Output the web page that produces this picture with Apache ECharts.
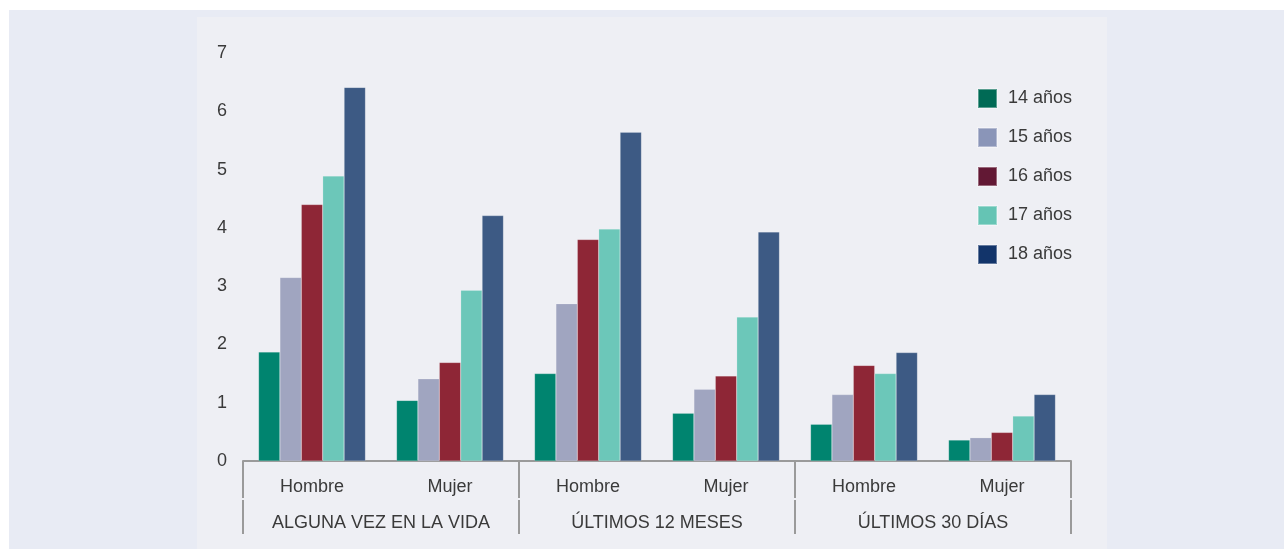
<!DOCTYPE html>
<html>
<head>
<meta charset="utf-8">
<script src="https://cdn.jsdelivr.net/npm/echarts@6/dist/echarts.min.js"></script>
<style>
html,body{margin:0;padding:0;background:#ffffff;}
#chart{width:1284px;height:549px;}
</style>
</head>
<body>
<div id="chart"></div>
<script>
const subCategories = ['Hombre', 'Mujer', 'Hombre', 'Mujer', 'Hombre', 'Mujer'];
const groupCategories = ['ALGUNA VEZ EN LA VIDA', 'ÚLTIMOS 12 MESES', 'ÚLTIMOS 30 DÍAS'];
const seriesNames = ['14 años', '15 años', '16 años', '17 años', '18 años'];
const age14 = [1.87, 1.04, 1.50, 0.82, 0.63, 0.36];
const age15 = [3.15, 1.41, 2.70, 1.23, 1.14, 0.40];
const age16 = [4.40, 1.69, 3.80, 1.46, 1.64, 0.49];
const age17 = [4.89, 2.93, 3.98, 2.47, 1.50, 0.77];
const age18 = [6.41, 4.21, 5.64, 3.93, 1.86, 1.14];
const yTicks = [0, 7, 1];

const barColors = ['#00846f', '#a0a5c0', '#8e2636', '#6cc7b9', '#3d5a84'];
const legendColors = ['#006a55', '#8a95b8', '#621834', '#65c4b4', '#12346a'];
const values = [age14, age15, age16, age17, age18];

const chart = echarts.init(document.getElementById('chart'), null, {renderer: 'canvas'});
const font = 'Liberation Sans, Arial, sans-serif';
const txt = '#3a3a3a';

chart.setOption({
  animation: false,
  backgroundColor: '#ffffff',
  graphic: [
    {type: 'rect', z: -10, silent: true, shape: {x: 9, y: 10, width: 1275, height: 539}, style: {fill: '#e8ebf4'}},
    {type: 'rect', z: -9, silent: true, shape: {x: 197, y: 17, width: 910, height: 532}, style: {fill: '#eeeff4'}}
  ],
  grid: {left: 243, right: 213, top: 53, bottom: 88, containLabel: false},
  legend: {
    orient: 'vertical',
    left: 977,
    top: 88,
    padding: 0,
    itemWidth: 19,
    itemHeight: 19,
    itemGap: 18,
    icon: 'rect',
    textStyle: {fontFamily: font, fontSize: 18, lineHeight: 19, color: txt, padding: [0, 0, 0, 6]},
    data: seriesNames.map((n, i) => ({name: n, itemStyle: {color: legendColors[i]}}))
  },
  xAxis: [
    {
      type: 'category',
      data: subCategories,
      position: 'bottom',
      axisLine: {show: true, lineStyle: {color: '#9a9a9a', width: 2}},
      axisTick: {show: true, length: 37, interval: function (i) { return i % 2 === 0; }, lineStyle: {color: '#9a9a9a', width: 2}},
      axisLabel: {fontFamily: font, fontSize: 18, color: txt, margin: 17, interval: 0}
    },
    {
      type: 'category',
      data: groupCategories,
      position: 'bottom',
      offset: 39,
      axisLine: {show: false},
      axisTick: {show: true, length: 34, interval: 0, lineStyle: {color: '#9a9a9a', width: 2}},
      axisLabel: {fontFamily: font, fontSize: 18, color: txt, margin: 14, interval: 0}
    }
  ],
  yAxis: {
    type: 'value',
    min: yTicks[0],
    max: yTicks[1],
    interval: yTicks[2],
    axisLine: {show: false},
    axisTick: {show: false},
    splitLine: {show: false},
    axisLabel: {fontFamily: font, fontSize: 18, color: txt, margin: 16}
  },
  series: seriesNames.map((n, i) => ({
    name: n,
    type: 'bar',
    xAxisIndex: 0,
    data: values[i],
    barGap: '0%',
    barCategoryGap: '22.5%',
    itemStyle: {color: barColors[i], borderColor: 'rgba(255,255,255,0.35)', borderWidth: 0.5}
  }))
});
</script>
</body>
</html>
